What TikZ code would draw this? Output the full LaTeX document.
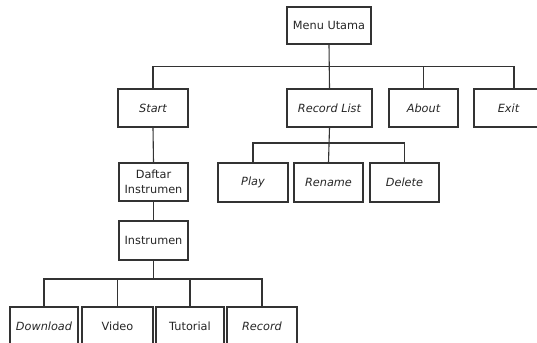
\documentclass[tikz,border=0pt]{standalone}
\usepackage{fontspec}
\setmainfont{DejaVu Sans}
\begin{document}
\begin{tikzpicture}[x=1pt,y=-1pt,
  box/.style={draw=black!80, line width=1.1pt, fill=white, inner sep=0pt, align=center,
    minimum height=38pt, text=black!85, font=\fontsize{11.3}{15}\selectfont},
  itbox/.style={box, font=\fontsize{11.3}{15}\selectfont\itshape},
  link/.style={draw=black!80, line width=1.1pt}]
\clip (0,0) rectangle (537,342);
\fill[white] (0,0) rectangle (537,342);
% level 0
\node[box, minimum width=84pt, minimum height=37pt] (menu) at (329,25.5) {Menu Utama};
% level 1
\node[itbox, minimum width=70pt] (start) at (153,108) {Start};
\node[itbox, minimum width=85pt] (reclist) at (329.5,108) {Record List};
\node[itbox, minimum width=69pt] (about) at (423.5,108) {About};
\node[itbox, minimum width=69pt] (exit) at (508.5,108) {Exit};
% record list children
\node[itbox, minimum width=70pt, minimum height=39pt] (play) at (253,182.5) {Play};
\node[itbox, minimum width=69pt, minimum height=39pt] (rename) at (328.5,182.5) {Rename};
\node[itbox, minimum width=69pt, minimum height=39pt] (delete) at (404.5,182.5) {Delete};
% start chain
\node[box, minimum width=69pt] (daftar) at (153.5,182) {Daftar\\Instrumen};
\node[box, minimum width=69pt, minimum height=39pt] (instr) at (153.5,240.5) {Instrumen};
% bottom row
\node[itbox, minimum width=68pt] (download) at (44,326) {Download};
\node[box, minimum width=71pt] (video) at (117.5,326) {Video};
\node[box, minimum width=68pt] (tutorial) at (190,326) {Tutorial};
\node[itbox, minimum width=70pt] (record) at (262,326) {Record};
% bus coordinates
\coordinate (b1) at (329,66.5);
\coordinate (b2) at (329,143);
\coordinate (b3) at (153.5,279);
% connectors level 1
\draw[link] (menu.south) -- (reclist.north);
\draw[link] (start.north) |- (b1) -| ([xshift=5.5pt]exit.north);
\draw[link] (b1 -| about.north) -- (about.north);
% record list children
\draw[link] (reclist.south) -- (rename.north);
\draw[link] (play.north) |- (b2) -| (delete.north);
% start chain
\draw[link] (start.south) -- (daftar.north);
\draw[link] (daftar.south) -- (instr.north);
\draw[link] (instr.south) -- (b3);
\draw[link] (download.north) |- (b3) -| (record.north);
\draw[link] (b3 -| video.north) -- (video.north);
\draw[link] (b3 -| tutorial.north) -- (tutorial.north);
\end{tikzpicture}
\end{document}
